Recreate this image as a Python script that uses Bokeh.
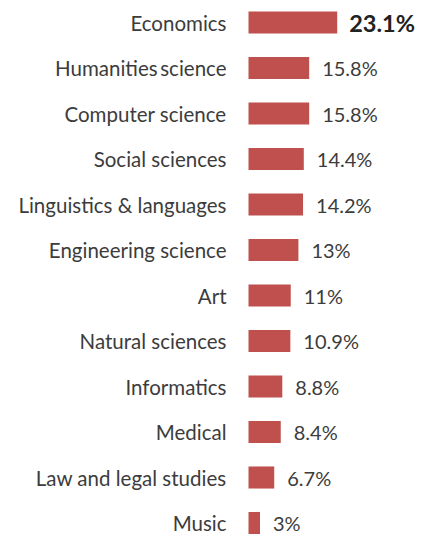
from bokeh.plotting import figure
from bokeh.models import Range1d, ColumnDataSource
from bokeh.core.properties import value
from bokeh.embed import file_html
from bokeh.resources import INLINE

categories = ["Economics", "Humanities\u2009science", "Computer science", "Social sciences",
              "Linguistics & languages", "Engineering science", "Art", "Natural sciences",
              "Informatics", "Medical", "Law and legal studies", "Music"]
shares = [23.1, 15.8, 15.8, 14.4, 14.2, 13.0, 11.0, 10.9, 8.8, 8.4, 6.7, 3.0]
value_labels = ["23.1%", "15.8%", "15.8%", "14.4%", "14.2%", "13%", "11%", "10.9%",
                "8.8%", "8.4%", "6.7%", "3%"]

n = len(categories)
rows = list(range(n))
W, H = 418, 534
pxu = 3.84          # pixels per percentage unit
x0 = 248            # frame pixel of zero
row_sp = 45.5
top = 22

p = figure(width=W, height=H, output_backend="svg", toolbar_location=None,
           x_range=Range1d(-x0 / pxu, (W - x0) / pxu),
           y_range=Range1d((H - top) / row_sp, -top / row_sp),
           min_border=0, min_border_left=0, min_border_right=0,
           min_border_top=0, min_border_bottom=0)
p.axis.visible = False
p.grid.visible = False
p.outline_line_color = None
p.background_fill_color = "white"

src = ColumnDataSource(dict(y=rows, v=shares, cat=categories, zero=[0] * n))
p.hbar(y="y", left=0, right="v", height=0.485, source=src,
       fill_color="#C0504D", line_color=None)

p.text(x="zero", y="y", text="cat", source=src, x_offset=-22,
       text_align="right", text_baseline="middle",
       text_font=value("Lato"), text_font_size="20.5px", text_color="#3c3c3c")

rest = ColumnDataSource(dict(y=rows[1:], v=shares[1:], lab=value_labels[1:]))
p.text(x="v", y="y", text="lab", source=rest, x_offset=13,
       text_align="left", text_baseline="middle",
       text_font=value("Lato"), text_font_size="20px", text_color="#3c3c3c")

first = ColumnDataSource(dict(y=rows[:1], v=shares[:1], lab=value_labels[:1]))
p.text(x="v", y="y", text="lab", source=first, x_offset=12,
       text_align="left", text_baseline="middle",
       text_font=value("Lato"), text_font_size="23.5px", text_font_style="bold",
       text_color="#222222")

open("out.html", "w").write(file_html(p, INLINE))
